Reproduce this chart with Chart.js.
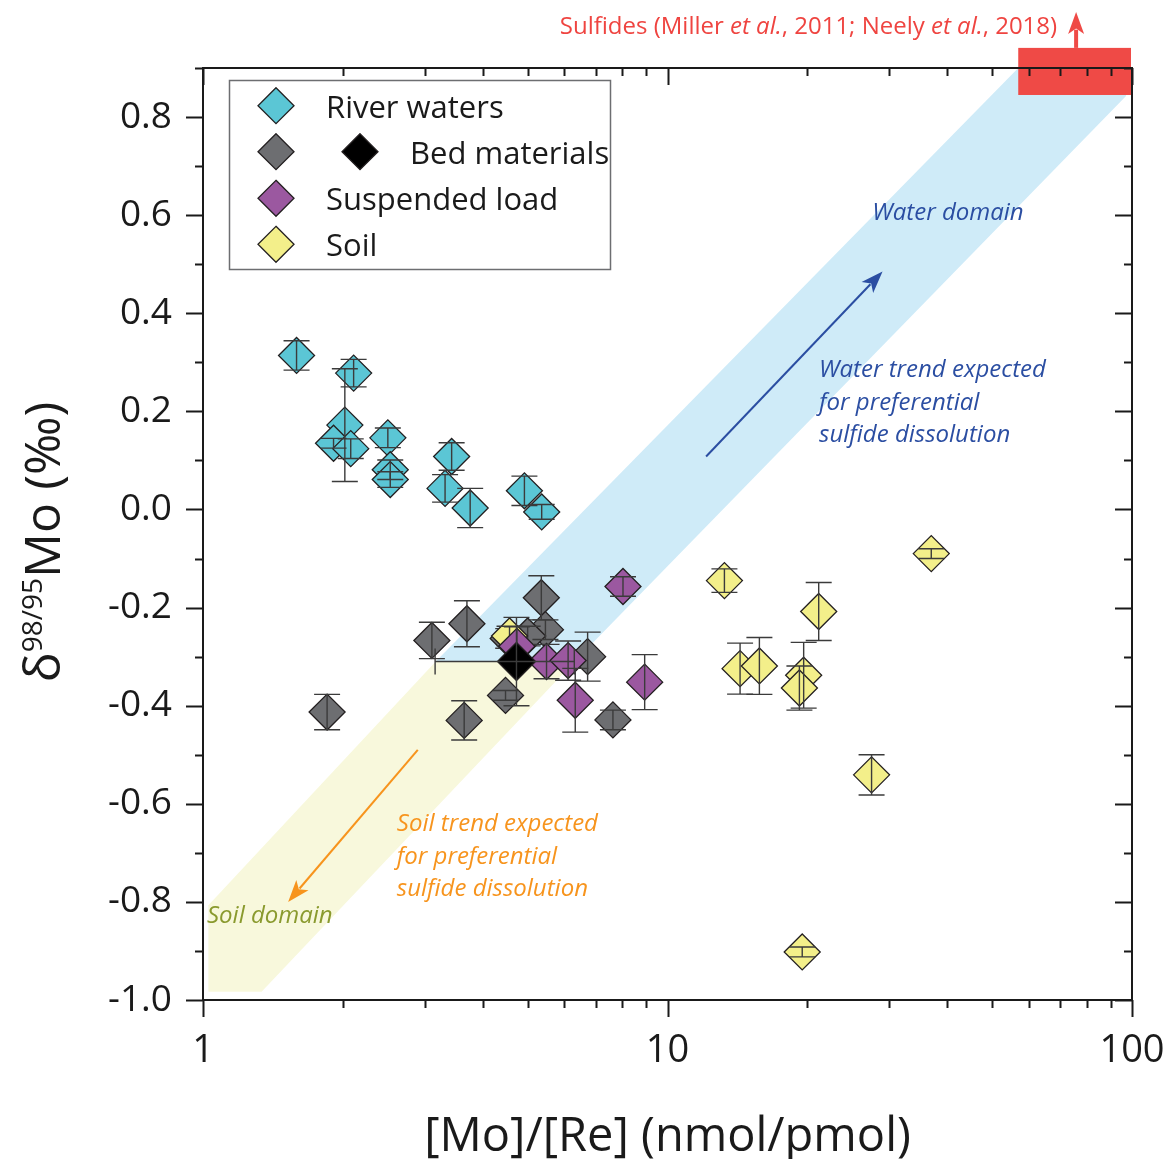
<!DOCTYPE html>
<html><head><meta charset="utf-8">
<script src="https://cdn.jsdelivr.net/npm/chart.js@4.4.1/dist/chart.umd.min.js"></script>
<style>html,body{margin:0;padding:0;background:#fff;}canvas{display:block;}</style>
</head><body>
<canvas id="c" width="1169" height="1159"></canvas>
<script>
// ---------------- data ----------------
const riverX   = [1.59, 2.11, 2.02, 1.91, 2.08, 2.50, 2.53, 2.53, 3.43, 3.32, 3.76, 4.92, 5.36];
const riverY   = [0.314, 0.278, 0.172, 0.135, 0.124, 0.146, 0.081, 0.061, 0.108, 0.043, 0.003, 0.038, -0.005];
const riverErr = [0.03, 0.028, 0.115, 0.01, 0.02, 0.02, 0.02, 0.016, 0.028, 0.028, 0.04, 0.03, 0.015];

const bedX   = [1.85, 3.11, 3.70, 3.65, 4.48, 4.54, 5.35, 5.46, 5.00, 6.73, 7.63];
const bedY   = [-0.413, -0.267, -0.233, -0.430, -0.379, -0.263, -0.180, -0.245, -0.258, -0.300, -0.429];
const bedErr = [0.036, 0.037, 0.047, 0.04, 0.01, 0.02, 0.045, 0.02, 0.02, 0.05, 0.02];

const bedMeanX    = [4.73];
const bedMeanY    = [-0.31];
const bedMeanErr  = [0.09];
const bedMeanXErr = [1.57];

const suspX   = [8.02, 4.74, 5.49, 6.11, 6.33, 8.93];
const suspY   = [-0.157, -0.279, -0.31, -0.308, -0.389, -0.352];
const suspErr = [0.02, 0.04, 0.035, 0.04, 0.065, 0.056];

const soilX   = [4.57, 13.26, 36.97, 21.16, 14.33, 15.77, 19.64, 19.23, 27.5, 19.5];
const soilY   = [-0.258, -0.145, -0.090, -0.208, -0.3245, -0.319, -0.338, -0.364, -0.541, -0.902];
const soilErr = [0.02, 0.024, 0.01, 0.059, 0.052, 0.058, 0.067, 0.045, 0.041, 0.01];

// domains (data coordinates)
const waterBandX = [3.17, 56.9, 97.1, 97.1, 6.31];
const waterBandY = [-0.31, 0.9, 0.9, 0.843, -0.31];
const soilBandX  = [3.17, 6.31, 1.337, 1.027, 1.027];
const soilBandY  = [-0.31, -0.31, -0.983, -0.983, -0.807];
const sulfideBoxX = [56.9, 99.5];
const sulfideBoxY = [0.845, 0.941];

// ticks
const xMajorTicks = [1, 10, 100];
const xTickLabels = ['1', '10', '100'];
const xMinorTicks = [2,3,4,5,6,7,8,9,20,30,40,50,60,70,80,90];
const yMajorTicks = [-1.0,-0.8,-0.6,-0.4,-0.2,0.0,0.2,0.4,0.6,0.8];
const yTickLabels = ['-1.0','-0.8','-0.6','-0.4','-0.2','0.0','0.2','0.4','0.6','0.8'];
const yMinorTicks = [-0.9,-0.7,-0.5,-0.3,-0.1,0.1,0.3,0.5,0.7,0.9];

// ---------------- styles ----------------
const FONT = '"Open Sans", "DejaVu Sans", sans-serif';
Chart.defaults.font.family = FONT;
const C_RIVER = '#5bc6d5', C_BED = '#6d6e71', C_MEAN = '#000000', C_SUSP = '#9b58a0', C_SOIL = '#f3ef8a';
const C_WATERTXT = '#2b4ea2', C_ORANGE = '#f7941d', C_OLIVE = '#8a9a2e', C_RED = '#ef4440';

const pts = (xs, ys) => xs.map((x, i) => ({x, y: ys[i]}));
const markerDs = (label, xs, ys, color, order, r, yErr, xErr) => ({
  label, data: pts(xs, ys), pointStyle: 'rectRot', pointRadius: r, pointHoverRadius: r,
  backgroundColor: color, borderColor: '#231f20', borderWidth: 1.3, order, yErr, xErr
});

function arrow(ctx, x0, y0, x1, y1, color, lw) {
  const ang = Math.atan2(y1 - y0, x1 - x0), L = 22, W = 8;
  ctx.save();
  ctx.strokeStyle = color; ctx.fillStyle = color; ctx.lineWidth = lw;
  ctx.beginPath(); ctx.moveTo(x0, y0);
  ctx.lineTo(x1 - Math.cos(ang) * L * 0.8, y1 - Math.sin(ang) * L * 0.8); ctx.stroke();
  ctx.beginPath(); ctx.moveTo(x1, y1);
  ctx.lineTo(x1 - Math.cos(ang) * L - Math.sin(ang) * W, y1 - Math.sin(ang) * L + Math.cos(ang) * W);
  ctx.lineTo(x1 - Math.cos(ang) * L * 0.75, y1 - Math.sin(ang) * L * 0.75);
  ctx.lineTo(x1 - Math.cos(ang) * L + Math.sin(ang) * W, y1 - Math.sin(ang) * L - Math.cos(ang) * W);
  ctx.closePath(); ctx.fill();
  ctx.restore();
}
function diamond(ctx, x, y, r, fill) {
  ctx.beginPath(); ctx.moveTo(x, y - r); ctx.lineTo(x + r, y); ctx.lineTo(x, y + r); ctx.lineTo(x - r, y); ctx.closePath();
  ctx.fillStyle = fill; ctx.fill(); ctx.lineWidth = 1.3; ctx.strokeStyle = '#231f20'; ctx.stroke();
}
function segText(ctx, segs, xRight, y) {
  let w = 0;
  segs.forEach(s => { ctx.font = s.f; w += ctx.measureText(s.t).width; });
  let x = xRight - w;
  segs.forEach(s => { ctx.font = s.f; ctx.fillText(s.t, x, y); x += ctx.measureText(s.t).width; });
}

const overlay = {
  id: 'overlay',
  beforeDatasetsDraw(chart) {
    const {ctx, chartArea: a, scales: {x, y}} = chart;
    const P = (vx, vy) => [x.getPixelForValue(vx), y.getPixelForValue(vy)];
    const poly = (xs, ys, col) => {
      ctx.beginPath();
      xs.forEach((vx, i) => { const [px, py] = P(vx, ys[i]); i ? ctx.lineTo(px, py) : ctx.moveTo(px, py); });
      ctx.closePath(); ctx.fillStyle = col; ctx.fill();
    };
    ctx.save();
    ctx.beginPath(); ctx.rect(a.left, a.top, a.right - a.left, a.bottom - a.top); ctx.clip();
    poly(waterBandX, waterBandY, '#cfebf8');
    poly(soilBandX, soilBandY, '#f8f8dc');
    ctx.restore();

    // sulfide box + arrow
    ctx.save();
    const [bx0, by0] = P(sulfideBoxX[0], sulfideBoxY[1]);
    const [bx1, by1] = P(sulfideBoxX[1], sulfideBoxY[0]);
    ctx.fillStyle = '#ef4a46'; ctx.fillRect(bx0, by0, bx1 - bx0, by1 - by0);
    const [ax0, ay0] = P(75.8, sulfideBoxY[1]);
    const [, ay1] = P(75.8, 1.014);
    arrow(ctx, ax0, ay0, ax0, ay1, '#ef4a46', 4);
    ctx.fillStyle = C_RED; ctx.textBaseline = 'middle';
    const [lx, ly] = P(69.0, 0.983);
    const n = '24px ' + FONT, it = 'italic 24px ' + FONT;
    segText(ctx, [{t: 'Sulfides (Miller ', f: n}, {t: 'et al.', f: it}, {t: ', 2011; Neely ', f: n}, {t: 'et al.', f: it}, {t: ', 2018)', f: n}], lx, ly);
    ctx.restore();

    // arrows
    const w0 = P(12.11, 0.108), w1 = P(29.04, 0.485);
    arrow(ctx, w0[0], w0[1], w1[0], w1[1], C_WATERTXT, 2);
    const s0 = P(2.90, -0.490), s1 = P(1.525, -0.80);
    arrow(ctx, s0[0], s0[1], s1[0], s1[1], C_ORANGE, 2);

    // annotation texts
    ctx.save();
    ctx.textBaseline = 'middle'; ctx.textAlign = 'left';
    ctx.font = 'italic 24px ' + FONT;
    ctx.fillStyle = C_WATERTXT;
    let p = P(27.6, 0.604); ctx.fillText('Water domain', p[0], p[1]);
    const wl = ['Water trend expected', 'for preferential', 'sulfide dissolution'];
    [0.284, 0.217, 0.152].forEach((vy, i) => { p = P(21.2, vy); ctx.fillText(wl[i], p[0], p[1]); });
    ctx.fillStyle = C_ORANGE;
    const sl = ['Soil trend expected', 'for preferential', 'sulfide dissolution'];
    [-0.641, -0.708, -0.774].forEach((vy, i) => { p = P(2.614, vy); ctx.fillText(sl[i], p[0], p[1]); });
    ctx.fillStyle = C_OLIVE;
    p = P(1.02, -0.829); ctx.fillText('Soil domain', p[0], p[1]);
    ctx.restore();
  },
  afterDatasetDraw(chart, args) {
    const ds = chart.data.datasets[args.index];
    if (!ds.yErr) return;
    const {ctx, scales: {x, y}} = chart;
    ctx.save();
    ctx.strokeStyle = '#3b3b3b'; ctx.lineWidth = 1.4;
    const cap = 13;
    ds.data.forEach((d, i) => {
      const px = x.getPixelForValue(d.x);
      const py0 = y.getPixelForValue(d.y - ds.yErr[i]);
      const py1 = y.getPixelForValue(d.y + ds.yErr[i]);
      ctx.beginPath();
      ctx.moveTo(px, py0); ctx.lineTo(px, py1);
      ctx.moveTo(px - cap, py0); ctx.lineTo(px + cap, py0);
      ctx.moveTo(px - cap, py1); ctx.lineTo(px + cap, py1);
      if (ds.xErr) {
        const py = y.getPixelForValue(d.y);
        const qx0 = x.getPixelForValue(d.x - ds.xErr[i]);
        const qx1 = x.getPixelForValue(d.x + ds.xErr[i]);
        ctx.moveTo(qx0, py); ctx.lineTo(qx1, py);
        ctx.moveTo(qx0, py - cap); ctx.lineTo(qx0, py + cap);
        ctx.moveTo(qx1, py - cap); ctx.lineTo(qx1, py + cap);
      }
      ctx.stroke();
    });
    ctx.restore();
  },
  afterDraw(chart) {
    const {ctx, chartArea: a, scales: {x, y}} = chart;
    ctx.save();
    ctx.strokeStyle = '#1a1a1a'; ctx.lineWidth = 2;
    ctx.strokeRect(a.left, a.top, a.right - a.left, a.bottom - a.top);
    ctx.beginPath();
    const MJ = 17, MN = 8;
    yMajorTicks.concat(yMinorTicks).forEach(v => {
      const L = yMajorTicks.includes(v) ? MJ : MN;
      const py = Math.round(y.getPixelForValue(v)) + 0.5;
      ctx.moveTo(a.left - L, py); ctx.lineTo(a.left, py);
      ctx.moveTo(a.right - L, py); ctx.lineTo(a.right, py);
    });
    xMajorTicks.concat(xMinorTicks).forEach(v => {
      const L = xMajorTicks.includes(v) ? MJ : MN;
      const px = Math.round(x.getPixelForValue(v)) + 0.5;
      ctx.moveTo(px, a.bottom); ctx.lineTo(px, a.bottom + L);
      ctx.moveTo(px, a.top); ctx.lineTo(px, a.top + L);
    });
    ctx.stroke();

    // axis titles
    ctx.fillStyle = '#1a1a1a';
    ctx.textAlign = 'center'; ctx.textBaseline = 'alphabetic';
    ctx.font = '47px ' + FONT;
    ctx.fillText('[Mo]/[Re] (nmol/pmol)', (a.left + a.right) / 2, 1151);

    ctx.save();
    ctx.translate(60, (a.top + a.bottom) / 2 + 8);
    ctx.rotate(-Math.PI / 2);
    ctx.textAlign = 'left';
    const big = '50px ' + FONT, sup = '28px ' + FONT;
    const parts = [{t: 'δ', f: big, dy: 0}, {t: '98/95', f: sup, dy: -18}, {t: 'Mo (‰)', f: big, dy: 0}];
    let tw = 0; parts.forEach(s => { ctx.font = s.f; tw += ctx.measureText(s.t).width; });
    let tx = -tw / 2;
    parts.forEach(s => { ctx.font = s.f; ctx.fillText(s.t, tx, s.dy); tx += ctx.measureText(s.t).width; });
    ctx.restore();

    // legend
    ctx.fillStyle = '#ffffff';
    ctx.fillRect(229.5, 80.5, 381, 189);
    ctx.strokeStyle = '#6d6e71'; ctx.lineWidth = 1.5;
    ctx.strokeRect(229.5, 80.5, 381, 189);
    const rows = [105.7, 151.7, 198.3, 244.3];
    diamond(ctx, 276, rows[0], 18, C_RIVER);
    diamond(ctx, 276, rows[1], 18, C_BED);
    diamond(ctx, 360, rows[1], 18, C_MEAN);
    diamond(ctx, 276, rows[2], 18, C_SUSP);
    diamond(ctx, 276, rows[3], 18, C_SOIL);
    ctx.fillStyle = '#1a1a1a'; ctx.font = '31px ' + FONT; ctx.textAlign = 'left'; ctx.textBaseline = 'middle';
    ctx.fillText('River waters', 326, rows[0] + 3);
    ctx.fillText('Bed materials', 410, rows[1] + 3);
    ctx.fillText('Suspended load', 326, rows[2] + 3);
    ctx.fillText('Soil', 326, rows[3] + 3);
    ctx.restore();
  }
};

new Chart(document.getElementById('c'), {
  type: 'scatter',
  data: {
    datasets: [
      markerDs('River waters', riverX, riverY, C_RIVER, 4, 18, riverErr),
      markerDs('Bed materials', bedX, bedY, C_BED, 3, 18, bedErr),
      markerDs('Soil', soilX, soilY, C_SOIL, 2, 18, soilErr),
      markerDs('Suspended load', suspX, suspY, C_SUSP, 1, 18, suspErr),
      markerDs('Bed materials (mean)', bedMeanX, bedMeanY, C_MEAN, 0, 19, bedMeanErr, bedMeanXErr)
    ]
  },
  options: {
    responsive: false, animation: false,
    layout: {padding: {left: 0, top: 68, right: 37, bottom: 0}},
    plugins: {legend: {display: false}, tooltip: {enabled: false}},
    scales: {
      x: {
        type: 'logarithmic', min: 1, max: 100,
        afterBuildTicks: s => { s.ticks = xMajorTicks.map(v => ({value: v})); },
        afterFit: s => { s.height = 159; s.paddingLeft = 0; s.paddingRight = 0; },
        ticks: {autoSkip: false, maxRotation: 0, padding: 28, color: '#1a1a1a', font: {size: 38},
          callback: v => { const i = xMajorTicks.indexOf(v); return i >= 0 ? xTickLabels[i] : ''; }},
        grid: {display: false, drawTicks: false}, border: {display: false}
      },
      y: {
        type: 'linear', min: -1.0, max: 0.9,
        afterBuildTicks: s => { s.ticks = yMajorTicks.map(v => ({value: v})); },
        afterFit: s => { s.width = 203; s.paddingTop = 0; s.paddingBottom = 0; },
        ticks: {autoSkip: false, padding: 31, color: '#1a1a1a', font: {size: 37},
          callback: v => { const i = yMajorTicks.findIndex(t => Math.abs(t - v) < 1e-9); return i >= 0 ? yTickLabels[i] : ''; }},
        grid: {display: false, drawTicks: false}, border: {display: false}
      }
    }
  },
  plugins: [overlay]
});
</script>
</body></html>
